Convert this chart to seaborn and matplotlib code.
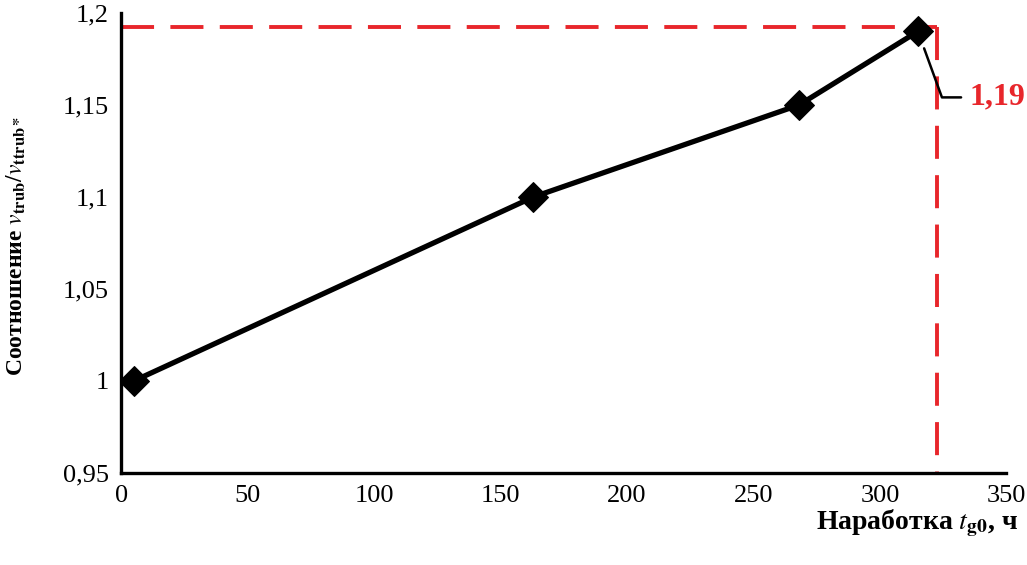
import numpy as np
import pandas as pd
import matplotlib
matplotlib.use('Agg')
import matplotlib.pyplot as plt
from matplotlib.ticker import FuncFormatter
import seaborn as sns

# data
hours = [5, 163, 268, 315]
ratio = [1.0, 1.1, 1.15, 1.19]
ref_hours = 322.5
ref_ratio = 1.1924
ref_label = '1,19'

sns.set_style('white')
plt.rcParams['font.family'] = ['Liberation Serif', 'DejaVu Serif']
plt.rcParams['mathtext.fontset'] = 'stix'
plt.rcParams['text.color'] = 'black'
plt.rcParams['axes.labelcolor'] = 'black'

df = pd.DataFrame({'t': hours, 'r': ratio})

fig = plt.figure(figsize=(10.27, 5.65), dpi=100)
ax = fig.add_axes([0.118, 0.163, 0.862, 0.814])

# red reference lines
ax.plot([0, ref_hours], [ref_ratio, ref_ratio], color='#e8262b', lw=2.8,
        dashes=(8.5, 4.2), zorder=1)
ax.plot([ref_hours, ref_hours], [ref_ratio, 0.95], color='#e8262b', lw=2.8,
        dashes=(8.5, 4.2), zorder=1, clip_on=False)

sns.lineplot(data=df, x='t', y='r', ax=ax, color='black', lw=3.8,
             marker='D', markersize=15, markeredgecolor='black', zorder=3)

ax.annotate(ref_label, xy=(hours[-1], ratio[-1]), xytext=(52, -66),
            textcoords='offset pixels', ha='left', va='center',
            color='#e8262b', fontsize=23, fontweight='bold',
            annotation_clip=False,
            arrowprops=dict(arrowstyle='-', color='black', lw=1.8,
                            shrinkA=4, shrinkB=13,
                            connectionstyle='angle,angleA=0,angleB=-70,rad=0'))

ax.set_xlim(0, 350)
ax.set_ylim(0.95, 1.2)
ax.set_xticks(np.arange(0, 351, 50))
ax.set_yticks([0.95, 1.0, 1.05, 1.1, 1.15, 1.2])
fmt = FuncFormatter(lambda v, p: ('%g' % round(v, 3)).replace('.', ','))
ax.xaxis.set_major_formatter(fmt)
ax.yaxis.set_major_formatter(fmt)
ax.tick_params(direction='in', length=5, width=2, labelsize=19, pad=9,
               colors='black')

for s in ['top', 'right']:
    ax.spines[s].set_visible(False)
for s in ['left', 'bottom']:
    ax.spines[s].set_linewidth(2.4)
    ax.spines[s].set_color('black')

ax.set_xlabel(r'Наработка $\mathit{t}_{\mathbf{g0}}$, ч', fontsize=20,
              fontweight='bold')
ax.xaxis.set_label_coords(0.899, -0.075)
ax.set_ylabel(r'Соотношение $v_{\mathbf{trub}}/v_{\mathbf{ttrub*}}$',
              fontsize=17, fontweight='bold')
ax.yaxis.set_label_coords(-0.105, 0.493)

fig.savefig('out.png', dpi=100)
